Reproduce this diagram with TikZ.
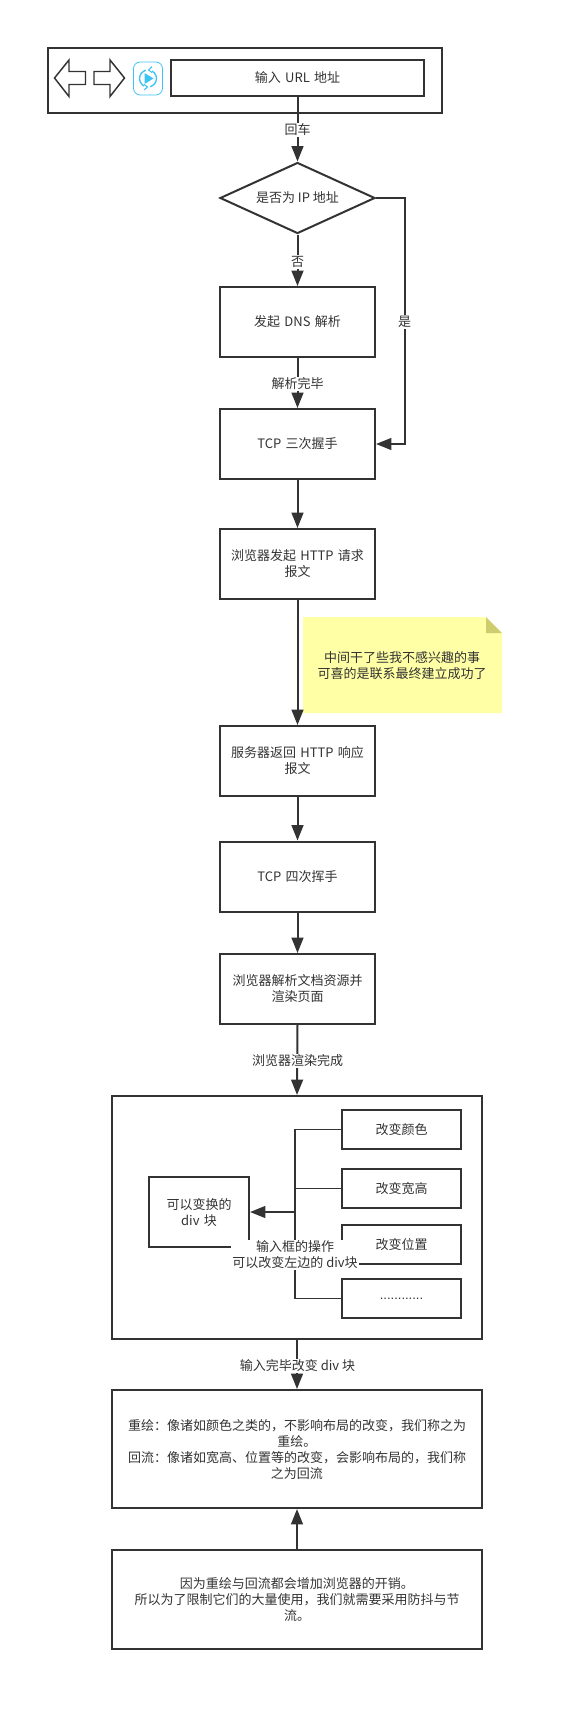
\documentclass[tikz,border=0pt]{standalone}
\usepackage{fontspec}
\setmainfont{Noto Sans CJK SC}
\usepackage{tikz}
\usetikzlibrary{arrows.meta,shapes.geometric}
\definecolor{inkc}{HTML}{333333}
\definecolor{notec}{HTML}{FFFFA6}
\definecolor{foldc}{HTML}{CDCD70}
\definecolor{iconc}{HTML}{3CC4F5}
\tikzset{
  flowbox/.style={draw=inkc,line width=1.5pt,minimum width=116.25pt,minimum height=52.5pt,align=center,text width=110pt,inner sep=0pt,text=inkc,font=\fontsize{9.75}{12}\selectfont},
  smallbox/.style={flowbox,minimum width=89.25pt,minimum height=29.25pt,text width=80pt},
  widebox/.style={flowbox,minimum width=277.5pt,text width=262pt},
  flowline/.style={draw=inkc,line width=1.5pt,-{Triangle[length=11.5pt,width=8.8pt]}},
  thinline/.style={draw=inkc,line width=1.3pt},
  iconline/.style={draw=inkc,line width=1.1pt},
  edgelabel/.style={fill=white,inner sep=1pt,text=inkc,font=\fontsize{9.75}{12}\selectfont}
}
\begin{document}
\begin{tikzpicture}[x=0.75pt,y=-0.75pt]
\useasboundingbox (0,0) rectangle (562,1711);
%browser bar
\node[flowbox,minimum width=295.5pt,minimum height=48.75pt,text width=280pt] (bar) at (244.5,80.2) {};
\node[flowbox,minimum width=189.5pt,minimum height=27pt,text width=180pt] (url) at (297.5,78) {输入 URL 地址};
\draw[iconline] (54.5,78) -- (69,60) -- (69,71.5) -- (85.5,71.5) -- (85.5,84.5) -- (69,84.5) -- (69,96.5) -- cycle;
\draw[iconline] (124.5,78) -- (110,60) -- (110,71.5) -- (94,71.5) -- (94,84.5) -- (110,84.5) -- (110,96.5) -- cycle;
\draw[draw=iconc,line width=0.6pt,rounded corners=5pt] (133.5,62) rectangle (162.5,95);
\draw[draw=iconc,line width=1pt] (148,78.5) circle (8.5);
\fill[white] (146,68) rectangle (152,72);
\fill[white] (144,85) rectangle (150,89);
\fill[iconc] (144.5,73) -- (153.5,78.5) -- (144.5,84) -- cycle;
\draw[draw=iconc,line width=0.8pt] (152,66.5) -- (148.5,70) -- (152,72.5);
\draw[draw=iconc,line width=0.8pt] (144,84.5) -- (147.5,87) -- (144,90);
%steps
\node[diamond,aspect=2.18,draw=inkc,line width=1.5pt,minimum width=116.25pt,minimum height=53.25pt,inner sep=0pt,text=inkc,font=\fontsize{9.75}{12}\selectfont] (ip) at (297.5,198) {是否为 IP 地址};
\node[flowbox] (dns) at (297.5,322) {发起 DNS 解析};
\node[flowbox] (tcpa) at (297.5,444) {TCP 三次握手};
\node[flowbox] (req) at (297.5,564) {浏览器发起 HTTP 请求\\报文};
\node[flowbox] (res) at (297.5,761) {服务器返回 HTTP 响应\\报文};
\node[flowbox] (tcpb) at (297.5,876.5) {TCP 四次挥手};
\node[flowbox] (page) at (297.5,989) {浏览器解析文档资源并\\渲染页面};
%note
\fill[notec] (303,617) -- (486,617) -- (502,633) -- (502,713) -- (303,713) -- cycle;
\fill[foldc] (486,617) -- (502,633) -- (486,633) -- cycle;
\node[inner sep=0pt,align=center,text=inkc,font=\fontsize{9.75}{12}\selectfont] (note) at (402,666) {中间干了些我不感兴趣的事\\可喜的是联系最终建立成功了};
%inner frame
\node[widebox,minimum height=182.25pt] (frame) at (297,1217.5) {};
\node[flowbox,minimum width=75pt,text width=70pt] (div) at (199,1212) {可以变换的\\div 块};
\node[smallbox] (color) at (401.5,1129.5) {改变颜色};
\node[smallbox] (size) at (401.5,1188.5) {改变宽高};
\node[smallbox] (place) at (401.5,1244.5) {改变位置};
\node[smallbox] (more) at (401.5,1298.5) {\fontspec{Liberation Sans}............};
\coordinate (hub) at (295,1212);
\draw[thinline] (color.west) -- (295,1129.5) -- (295,1298.5) -- (more.west);
\draw[thinline] (size.west) -- (295,1188.5);
\draw[thinline] (place.west) -- (295,1244.5);
\draw[flowline] (hub) -- (div.east);
\node[fill=white,inner sep=1pt,align=center,text=inkc,font=\fontsize{9.75}{12}\selectfont] (ops) at (295,1255) {输入框的操作\\可以改变左边的 div块};
%result
\node[widebox,minimum height=88.5pt] (paint) at (297,1449) {重绘：像诸如颜色之类的，不影响布局的改变，我们称之为\\重绘。\\回流：像诸如宽高、位置等的改变，会影响布局的，我们称\\之为回流};
\node[widebox,minimum height=74.25pt] (cost) at (297,1599.5) {因为重绘与回流都会增加浏览器的开销。\\所以为了限制它们的大量使用，我们就需要采用防抖与节\\流。};
%arrows
\draw[flowline] (url.south) -- (ip.north);
\node[edgelabel] (lenter) at (297.5,130) {回车};
\draw[flowline] (ip.south) -- (dns.north);
\node[edgelabel] (lno) at (297.5,262) {否};
\draw[flowline] (ip.east) -- (404.5,198) -- (404.5,444) -- (tcpa.east);
\node[edgelabel] (lyes) at (404.5,322) {是};
\draw[flowline] (dns.south) -- (tcpa.north);
\node[edgelabel] (ldone) at (297.5,384) {解析完毕};
\draw[flowline] (tcpa.south) -- (req.north);
\draw[flowline] (req.south) -- (res.north);
\draw[flowline] (res.south) -- (tcpb.north);
\draw[flowline] (tcpb.south) -- (page.north);
\draw[flowline] (page.south) -- (frame.north);
\node[edgelabel] (lrender) at (297.5,1061) {浏览器渲染完成};
\draw[flowline] (frame.south) -- (paint.north);
\node[edgelabel] (lchange) at (297.5,1366) {输入完毕改变 div 块};
\draw[flowline] (cost.north) -- (paint.south);
\end{tikzpicture}
\end{document}
